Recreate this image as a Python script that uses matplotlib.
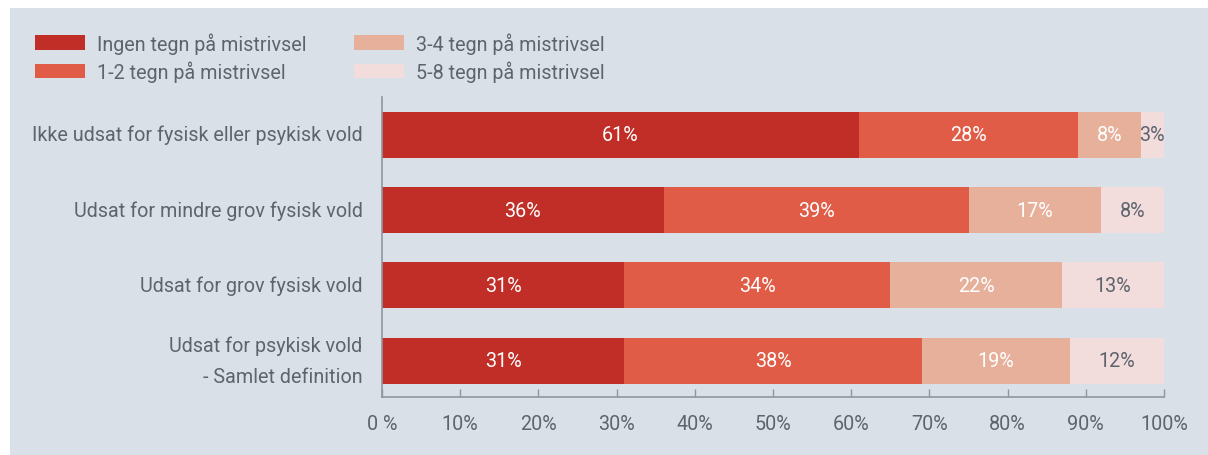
import matplotlib
matplotlib.use("Agg")
import matplotlib.pyplot as plt
from matplotlib.patches import Rectangle
import numpy as np

categories = [
    "Ikke udsat for fysisk eller psykisk vold",
    "Udsat for mindre grov fysisk vold",
    "Udsat for grov fysisk vold",
    "Udsat for psykisk vold\n- Samlet definition",
]
series_names = [
    "Ingen tegn på mistrivsel",
    "1-2 tegn på mistrivsel",
    "3-4 tegn på mistrivsel",
    "5-8 tegn på mistrivsel",
]
ingen = [61, 36, 31, 31]
en_to = [28, 39, 34, 38]
tre_fire = [8, 17, 22, 19]
fem_otte = [3, 8, 13, 12]
tick_values = [0, 10, 20, 30, 40, 50, 60, 70, 80, 90, 100]
tick_labels = ["0 %", "10%", "20%", "30%", "40%", "50%", "60%", "70%", "80%", "90%", "100%"]

colors = ["#c02e27", "#e15c47", "#e6b09a", "#f2dcdc"]
label_colors = ["white", "white", "white", "#5d646d"]
text_color = "#5d646d"
bg = "#d9e0e7"
spine_color = "#8e979f"

plt.rcParams['font.family'] = ['Roboto', 'DejaVu Sans']
FS = 14.2

W, H = 1208, 456
fig = plt.figure(figsize=(W / 100, H / 100), dpi=100)
fig.patch.set_facecolor("white")
fig.patches.append(Rectangle((10 / W, 0), 1 - 10 / W, 1 - 9 / H,
                             transform=fig.transFigure, facecolor=bg,
                             edgecolor="none", zorder=-10))

ax = fig.add_axes([382 / W, (H - 398) / H, (1164 - 382) / W, (398 - 98) / H])
ax.set_facecolor("none")

series = [ingen, en_to, tre_fire, fem_otte]
y = np.arange(len(categories))
left = np.zeros(len(categories))
for vals, name, c, lc in zip(series, series_names, colors, label_colors):
    vals = np.array(vals, dtype=float)
    ax.barh(y, vals, left=left, height=0.61, color=c, label=name)
    for yi, l, v in zip(y, left, vals):
        ax.text(l + v / 2, yi, f"{int(v)}%", ha="center", va="center",
                color=lc, fontsize=FS)
    left += vals

ax.set_xlim(0, 100)
ax.set_ylim(3.48, -0.5)
ax.set_yticks(y)
ax.set_yticklabels(categories, fontsize=FS, color=text_color, linespacing=1.85)
ax.tick_params(axis="y", length=0, pad=14)
ax.set_xticks(tick_values)
ax.set_xticklabels(tick_labels, fontsize=FS, color=text_color)
ax.tick_params(axis="x", direction="in", length=6, width=1, color=spine_color, pad=12)
for lbl in ax.get_yticklabels():
    lbl.set_horizontalalignment("right")
    lbl.set_verticalalignment("center")

for s in ["top", "right"]:
    ax.spines[s].set_visible(False)
for s in ["left", "bottom"]:
    ax.spines[s].set_color(spine_color)
    ax.spines[s].set_linewidth(1.2)

handles, labels = ax.get_legend_handles_labels()
leg = fig.legend(handles, labels, ncol=2, loc="upper left",
                 bbox_to_anchor=(35 / W, 1 - 33 / H),
                 frameon=False, fontsize=FS, handlelength=2.54, handleheight=0.76,
                 handletextpad=0.6, columnspacing=2.4, labelspacing=0.35,
                 borderpad=0, borderaxespad=0, labelcolor=text_color)

fig.savefig("out.png", dpi=100, facecolor=fig.get_facecolor())
